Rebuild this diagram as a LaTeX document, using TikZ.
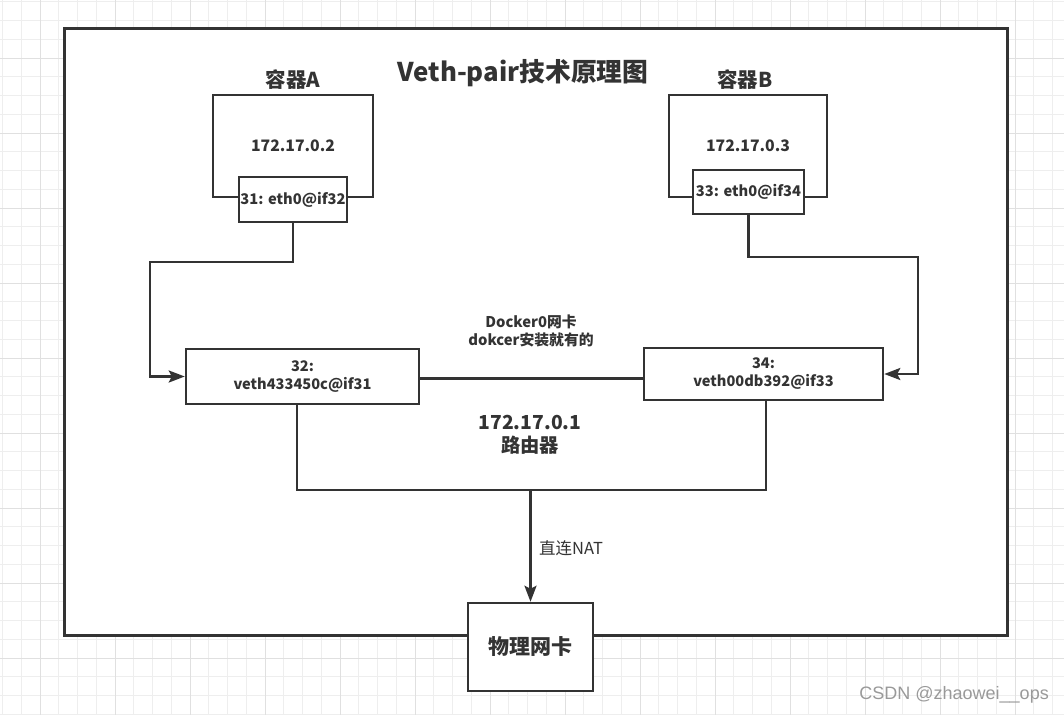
\documentclass[tikz,border=0pt]{standalone}
\usepackage{fontspec}
\setmainfont{Noto Sans CJK SC}
\newfontfamily\wmfont{Liberation Sans}
\usetikzlibrary{arrows.meta}
\definecolor{ink}{HTML}{333333}
\definecolor{gridminor}{HTML}{EEEEEE}
\definecolor{gridmajor}{HTML}{E0E0E0}
\begin{document}
\begin{tikzpicture}[x=1pt,y=-1pt,
  box/.style={draw=ink, line width=2.5pt, fill=white, inner sep=0pt, font=\bfseries, text=ink},
  conn/.style={draw=ink, line width=2.5pt},
  arr/.style={conn, -{Stealth[length=16pt,width=12pt,inset=3pt]}},
  lbl/.style={text=ink, font=\bfseries, inner sep=0pt, align=center}]
\useasboundingbox (0,0) rectangle (1064,715);
\fill[white] (0,0) rectangle (1064,715);
% grid
\foreach \i in {0,...,57} {
  \pgfmathsetmacro{\gx}{2.5+18.75*\i}
  \draw[gridminor, line width=0.8pt] (\gx,0) -- (\gx,715);
}
\foreach \i in {0,...,38} {
  \pgfmathsetmacro{\gy}{1.75+18.75*\i}
  \draw[gridminor, line width=0.8pt] (0,\gy) -- (1064,\gy);
}
\foreach \i in {0,...,14} {
  \pgfmathsetmacro{\gx}{40+75*\i}
  \draw[gridmajor, line width=1pt] (\gx,0) -- (\gx,715);
}
\foreach \i in {0,...,9} {
  \pgfmathsetmacro{\gy}{58+75*\i}
  \draw[gridmajor, line width=1pt] (0,\gy) -- (1064,\gy);
}
% outer frame
\node[draw=ink, line width=3pt, fill=white, minimum width=943pt, minimum height=607pt, inner sep=0pt] (frame) at (535.5,331.5) {};
% title
\node[lbl, font=\bfseries\fontsize{25.8}{30}\selectfont] (title) at (523,73) {Veth-pair技术原理图};
% container A
\node[lbl, font=\bfseries\fontsize{20.5}{24}\selectfont] (la) at (293,80) {容器A};
\node[box, minimum width=160pt, minimum height=102pt, font=\bfseries\fontsize{15.8}{19}\selectfont] (ca) at (293,146) {172.17.0.2};
\node[box, minimum width=108pt, minimum height=45pt, font=\bfseries\fontsize{14.7}{17}\selectfont] (etha) at (293,199.5) {31: eth0@if32};
% container B
\node[lbl, font=\bfseries\fontsize{20.5}{24}\selectfont] (lb) at (745,80) {容器B};
\node[box, minimum width=158pt, minimum height=102pt, font=\bfseries\fontsize{15.8}{19}\selectfont] (cb) at (748,146) {172.17.0.3};
\node[box, minimum width=111pt, minimum height=44pt, font=\bfseries\fontsize{14.7}{17}\selectfont] (ethb) at (748.5,192) {33: eth0@if34};
% veth boxes
\node[box, align=center, minimum width=233pt, minimum height=55pt, font=\bfseries\fontsize{14.6}{18}\selectfont] (vetha) at (302.5,376.5) {32:\\veth433450c@if31};
\node[box, align=center, minimum width=239pt, minimum height=52pt, font=\bfseries\fontsize{14.6}{18}\selectfont] (vethb) at (763.5,374) {34:\\veth00db392@if33};
% labels
\node[lbl, font=\bfseries\fontsize{14.8}{18}\selectfont] (docker) at (531,331) {Docker0网卡\\dokcer安装就有的};
\node[lbl, font=\bfseries\fontsize{19.3}{23}\selectfont] (router) at (530,435) {172.17.0.1\\路由器};
% physical NIC
\node[box, minimum width=125pt, minimum height=88pt, font=\bfseries\fontsize{21}{25}\selectfont] (phys) at (530.5,647) {物理网卡};
% connectors
\coordinate (ja1) at (150,262);
\coordinate (jb1) at (918,257);
\draw[arr] (etha.south) -- (etha.south |- ja1) -- (ja1) -- (ja1 |- vetha.west) -- (vetha.west);
\draw[arr] (ethb.south) -- (ethb.south |- jb1) -- (jb1) -- (jb1 |- vethb.east) -- (vethb.east);
\coordinate (mid) at (0,378.5);
\draw[conn] (vetha.east |- mid) -- (vethb.west |- mid);
\coordinate (bl) at (297,490);
\coordinate (br) at (766,490);
\coordinate (bc) at (530.5,490);
\draw[conn] (bl |- vetha.south) -- (bl) -- (br) -- (br |- vethb.south);
\draw[arr] (bc) -- (phys.north);
\node[lbl, font=\fontsize{16.5}{19}\selectfont, anchor=west] (nat) at (539,548) {直连NAT};
% watermark
\node[text=gray!80, font=\wmfont\fontsize{18}{21}\selectfont, anchor=east, inner sep=0pt] (wm) at (1049,695) {CSDN @zhaowei\_\_ops};
\end{tikzpicture}
\end{document}
